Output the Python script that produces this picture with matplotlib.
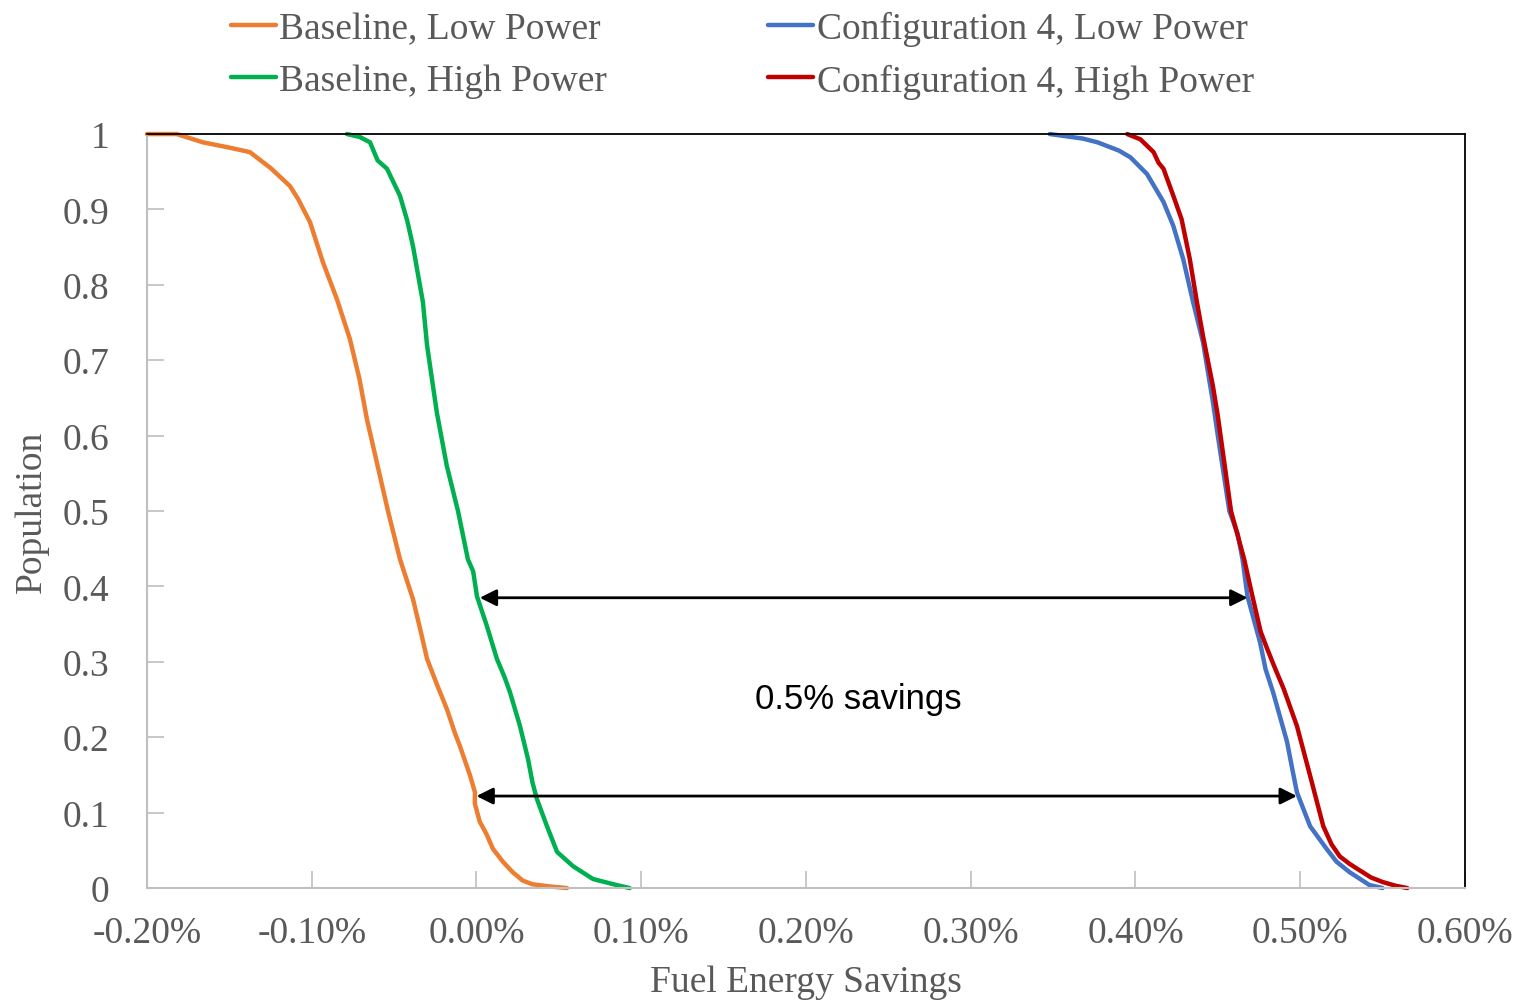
import matplotlib.pyplot as plt
from matplotlib.ticker import FuncFormatter, MultipleLocator

plt.rcParams['font.family'] = ['Liberation Serif', 'DejaVu Serif']

# Savings (%) vs fraction of population reaching at least that savings
base_low_x = [-0.200, -0.182, -0.166, -0.150, -0.1375, -0.125, -0.1132, -0.1083, -0.101,
              -0.0932, -0.0847, -0.0768, -0.071, -0.0665, -0.060, -0.0537, -0.0464, -0.0385,
              -0.034, -0.030, -0.024, -0.0179, -0.013, -0.010, -0.004, -0.0009, -0.001,
              0.002, 0.006, 0.010, 0.016, 0.022, 0.028, 0.034, 0.045, 0.055]
base_low_y = [1.0, 1.0, 0.989, 0.982, 0.976, 0.955, 0.931, 0.914, 0.883,
              0.830, 0.781, 0.728, 0.675, 0.622, 0.560, 0.500, 0.436, 0.383,
              0.342, 0.304, 0.270, 0.237, 0.205, 0.188, 0.150, 0.127, 0.112,
              0.088, 0.072, 0.052, 0.035, 0.021, 0.010, 0.005, 0.002, 0.0]

base_high_x = [-0.0786, -0.0707, -0.0646, -0.060, -0.0543, -0.0464, -0.042, -0.0385, -0.0325,
               -0.030, -0.0264, -0.024, -0.018, -0.0112, -0.0052, -0.002, 0.0003, 0.0064,
               0.0124, 0.017, 0.0203, 0.0264, 0.0313, 0.034, 0.0367, 0.0428, 0.0489,
               0.0586, 0.0707, 0.085, 0.093]
base_high_y = [1.0, 0.996, 0.989, 0.965, 0.954, 0.918, 0.885, 0.851, 0.777,
               0.720, 0.666, 0.630, 0.560, 0.500, 0.436, 0.420, 0.387, 0.347,
               0.304, 0.280, 0.260, 0.215, 0.171, 0.140, 0.118, 0.082, 0.048,
               0.029, 0.012, 0.004, 0.0]

conf4_low_x = [0.348, 0.358, 0.368, 0.377, 0.390, 0.397, 0.407, 0.417, 0.423, 0.429, 0.435,
               0.441, 0.447, 0.450, 0.457, 0.462, 0.465, 0.468, 0.4756, 0.479, 0.4835,
               0.492, 0.495, 0.498, 0.506, 0.516, 0.522, 0.530, 0.542, 0.550]
conf4_low_y = [1.0, 0.997, 0.994, 0.989, 0.978, 0.969, 0.947, 0.910, 0.878, 0.834, 0.777,
               0.724, 0.645, 0.600, 0.500, 0.470, 0.436, 0.387, 0.326, 0.290, 0.260,
               0.194, 0.160, 0.127, 0.082, 0.052, 0.035, 0.021, 0.004, 0.0]

conf4_high_x = [0.395, 0.403, 0.411, 0.414, 0.417, 0.423, 0.428, 0.433, 0.437, 0.441, 0.447,
                0.450, 0.458, 0.466, 0.471, 0.476, 0.480, 0.485, 0.490, 0.498, 0.506,
                0.514, 0.519, 0.524, 0.530, 0.535, 0.543, 0.550, 0.558, 0.565]
conf4_high_y = [1.0, 0.993, 0.976, 0.962, 0.954, 0.918, 0.887, 0.834, 0.781, 0.732, 0.666,
                0.626, 0.500, 0.436, 0.387, 0.340, 0.317, 0.290, 0.264, 0.215, 0.149,
                0.082, 0.058, 0.042, 0.032, 0.025, 0.014, 0.008, 0.003, 0.0]

labels = ['Baseline, Low Power', 'Baseline, High Power',
          'Configuration 4, Low Power', 'Configuration 4, High Power']
colors = ['#ED7D31', '#00B050', '#4472C4', '#C00000']

# savings arrows: (y, x_start, x_end)
arrow_low = (0.122, 0.0, 0.498)
arrow_high = (0.385, 0.002, 0.468)
note = '0.5% savings'

fig = plt.figure(figsize=(15.26, 10.04), dpi=100)
ax = fig.add_axes([0.0963, 0.1145, 0.8637, 0.751])

series = [(base_low_x, base_low_y), (base_high_x, base_high_y),
          (conf4_low_x, conf4_low_y), (conf4_high_x, conf4_high_y)]
for (xs, ys), lab, col in zip(series, labels, colors):
    ax.plot(xs, ys, color=col, lw=3.2, label=lab, clip_on=False,
            solid_capstyle='round', solid_joinstyle='round')

for y, x0, x1 in (arrow_high, arrow_low):
    ax.annotate('', xy=(x1, y), xytext=(x0, y),
                arrowprops=dict(arrowstyle='<|-|>', color='black', lw=2,
                                mutation_scale=25, shrinkA=0, shrinkB=0))
ax.text(0.232, 0.252, note, fontsize=25, family=['Liberation Sans', 'DejaVu Sans'],
        ha='center', va='center', color='black')

ax.set_xlim(-0.2, 0.6)
ax.set_ylim(0, 1)
ax.xaxis.set_major_locator(MultipleLocator(0.1))
ax.yaxis.set_major_locator(MultipleLocator(0.1))
ax.xaxis.set_major_formatter(FuncFormatter(lambda v, p: f'{v:.2f}%'))
ax.yaxis.set_major_formatter(FuncFormatter(lambda v, p: '0' if abs(v) < 1e-9 else ('1' if abs(v - 1) < 1e-9 else f'{v:.1f}')))

txt = '#595959'
ax.tick_params(axis='both', direction='in', length=12, width=1.2, color='#BFBFBF',
               labelsize=27, labelcolor=txt)
ax.tick_params(axis='x', pad=20)
ax.tick_params(axis='y', pad=27)

for side in ('left', 'bottom'):
    ax.spines[side].set_color('#BFBFBF')
    ax.spines[side].set_linewidth(1.5)
for side in ('top', 'right'):
    ax.spines[side].set_color('black')
    ax.spines[side].set_linewidth(1.3)

ax.set_xlabel('Fuel Energy Savings', fontsize=27, color=txt, labelpad=10)
ax.set_ylabel('Population', fontsize=27, color=txt, labelpad=10)

leg = fig.legend(loc='upper left', bbox_to_anchor=(0.129, 1.022), ncol=2, frameon=False,
                 fontsize=27, handlelength=1.2, handletextpad=0.1, columnspacing=4.3,
                 labelspacing=0.47)
for t in leg.get_texts():
    t.set_color(txt)

fig.savefig('out.png', dpi=100)
